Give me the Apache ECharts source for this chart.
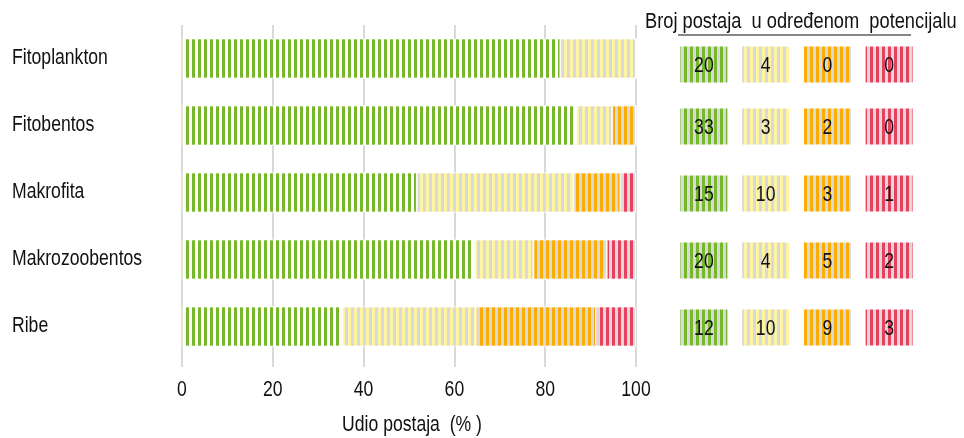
<!DOCTYPE html>
<html>
<head>
<meta charset="utf-8">
<script src="https://cdn.jsdelivr.net/npm/echarts@6/dist/echarts.min.js"></script>
<style>
  html, body { margin: 0; padding: 0; background: #fff; }
  #main { width: 964px; height: 438px; }
</style>
</head>
<body>
<div id="main"></div>
<script>
// podaci
var categories = ['Fitoplankton', 'Fitobentos', 'Makrofita', 'Makrozoobentos', 'Ribe'];
var dobar = [20, 33, 15, 20, 12];
var umjeren = [4, 3, 10, 4, 10];
var los = [0, 2, 3, 5, 9];
var losiji = [0, 0, 1, 2, 3];
var xTicks = [0, 20, 40, 60, 80, 100];
var columns = ['dobar', 'umjeren', 'los', 'losiji'];

var FONT = "'Liberation Sans', Arial, sans-serif";
var FS = 22;      // visina slova
var SX = 0.8;     // suženje teksta (Arial Narrow izgled)

function stripes(color, gap) {
    var c = document.createElement('canvas');
    c.width = 6; c.height = 10;
    var ctx = c.getContext('2d');
    ctx.fillStyle = gap; ctx.fillRect(0, 0, 6, 10);
    ctx.fillStyle = color; ctx.fillRect(0, 0, 3, 10);
    return { image: c, repeat: 'repeat' };
}

var cols = ['#76b82a', '#fff4a0', '#fcad00', '#e8415f'];
var barFill = [stripes(cols[0], '#ffffff'), stripes(cols[1], '#d9d9d9'), stripes(cols[2], '#d9d9d9'), stripes(cols[3], '#d9d9d9')];
var boxFill = [stripes(cols[0], '#d9d9d9'), stripes(cols[1], '#d9d9d9'), stripes(cols[2], '#d9d9d9'), stripes(cols[3], '#d9d9d9')];

var groups = [dobar, umjeren, los, losiji];
var totals = categories.map(function (c, i) {
    return dobar[i] + umjeren[i] + los[i] + losiji[i];
});

function txt(s, x, y, align, sx) {
    return {
        type: 'text', x: x, y: y, scaleX: sx || SX, silent: true,
        style: {
            text: String(s), font: FS + 'px ' + FONT, fill: '#111',
            align: align || 'left', verticalAlign: 'middle',
            textAlign: align || 'left', textVerticalAlign: 'middle'
        }
    };
}

var myChart = echarts.init(document.getElementById('main'));

var series = groups.map(function (g, k) {
    return {
        name: columns[k],
        type: 'bar',
        stack: 'udio',
        barWidth: 40,
        xAxisIndex: 0, yAxisIndex: 0,
        itemStyle: { color: barFill[k], borderColor: '#fff', borderWidth: 0.8 },
        data: g.map(function (v, i) { return v / totals[i] * 100; })
    };
});

// tablica broja postaja
var tableData = [];
categories.forEach(function (c, i) {
    groups.forEach(function (g, k) {
        tableData.push([k, i, g[i]]);
    });
});
series.push({
    type: 'custom',
    xAxisIndex: 1, yAxisIndex: 1,
    silent: true,
    renderItem: function (params, api) {
        var k = api.value(0), i = api.value(1);
        var p = api.coord([k, i]);
        var off = i === 0 ? 6 : 1;
        var t = txt(api.value(2), p[0], p[1] + off + 1, 'center');
        return {
            type: 'group',
            children: [
                { type: 'rect', shape: { x: p[0] - 23.5, y: p[1] - 18 + off, width: 47, height: 36 },
                  style: { fill: boxFill[k] } },
                t
            ]
        };
    },
    data: tableData
});

option = {
    animation: false,
    grid: [
        { left: 182, right: 328, top: 25, bottom: 78 },
        { left: 673, right: 44, top: 25, bottom: 78 }
    ],
    xAxis: [
        {
            type: 'value', min: 0, max: 100, interval: 20, gridIndex: 0,
            axisLine: { show: false },
            axisTick: { show: true, length: 7, lineStyle: { color: '#d9d9d9', width: 2 } },
            splitLine: { show: true, lineStyle: { color: '#d9d9d9', width: 2 } },
            axisLabel: { show: false }
        },
        {
            type: 'category', data: columns, gridIndex: 1,
            axisLine: { show: false }, axisTick: { show: false },
            axisLabel: { show: false }, splitLine: { show: false }
        }
    ],
    yAxis: [
        {
            type: 'category', data: categories, inverse: true, gridIndex: 0,
            axisLine: { show: false }, axisTick: { show: false },
            axisLabel: { show: false }
        },
        {
            type: 'category', data: categories, inverse: true, gridIndex: 1,
            axisLine: { show: false }, axisTick: { show: false },
            axisLabel: { show: false }
        }
    ],
    series: series
};

myChart.setOption(option);

// tekstovi (suženi) postavljeni preko skala osi
var graphics = [];
categories.forEach(function (c) {
    var y = myChart.convertToPixel({ yAxisIndex: 0 }, c);
    graphics.push(txt(c, 12, y - 1, 'left'));
});
xTicks.forEach(function (v) {
    var x = myChart.convertToPixel({ xAxisIndex: 0 }, v);
    graphics.push(txt(v, x, 390, 'center'));
});
var x0 = myChart.convertToPixel({ xAxisIndex: 0 }, 0);
var x1 = myChart.convertToPixel({ xAxisIndex: 0 }, 100);
graphics.push(txt('Udio postaja  (% )', (x0 + x1) / 2 + 3, 425, 'center'));
graphics.push(txt('Broj postaja  u određenom  potencijalu', 645, 22, 'left', 0.83));
graphics.push({
    type: 'line', silent: true,
    shape: { x1: 678, y1: 35, x2: 911, y2: 35 },
    style: { stroke: '#111', lineWidth: 1 }
});
myChart.setOption({ graphic: graphics });
</script>
</body>
</html>
